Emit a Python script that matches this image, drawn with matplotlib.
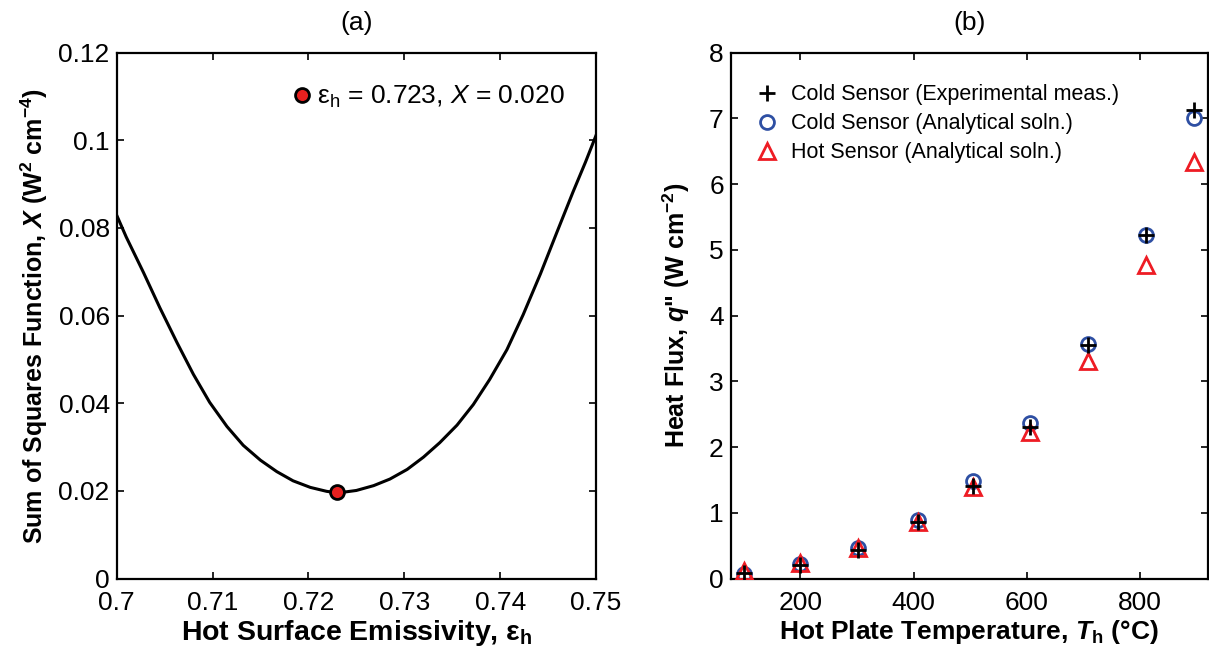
import matplotlib
matplotlib.use('Agg')
import matplotlib.pyplot as plt

plt.rcParams['font.family'] = ['Liberation Sans', 'DejaVu Sans']
plt.rcParams['mathtext.fontset'] = 'custom'
plt.rcParams['mathtext.rm'] = 'Liberation Sans'
plt.rcParams['mathtext.it'] = 'Liberation Sans:italic'
plt.rcParams['mathtext.bf'] = 'Liberation Sans:bold'
plt.rcParams['mathtext.bfit'] = 'Liberation Sans:bold:italic'

# (a) sum of squares vs emissivity
eps = [0.7000, 0.7010, 0.7028, 0.7045, 0.7063, 0.7080, 0.7097, 0.7115,
       0.7132, 0.7150, 0.7167, 0.7184, 0.7202, 0.7219, 0.7229, 0.7233,
       0.7250, 0.7268, 0.7285, 0.7303, 0.7320, 0.7337, 0.7355, 0.7372,
       0.7389, 0.7407, 0.7424, 0.7442, 0.7459, 0.7476, 0.7489, 0.7500]
sos = [0.0829, 0.0779, 0.0698, 0.0618, 0.0538, 0.0466, 0.0402, 0.0347,
       0.0304, 0.0270, 0.0244, 0.0223, 0.0208, 0.0199, 0.0196, 0.0196,
       0.0201, 0.0212, 0.0227, 0.0249, 0.0277, 0.0310, 0.0350, 0.0397,
       0.0454, 0.0522, 0.0602, 0.0695, 0.0789, 0.0882, 0.0950, 0.1011]
eps_min = 0.723
sos_min = 0.0197

# (b) heat flux vs hot plate temperature
temp = [100, 200, 302, 408, 505, 606, 709, 810, 896]
cold_exp = [0.09, 0.21, 0.44, 0.855, 1.41, 2.30, 3.55, 5.22, 7.13]
cold_an = [0.075, 0.215, 0.47, 0.89, 1.48, 2.36, 3.57, 5.22, 7.01]
hot_an = [0.11, 0.24, 0.46, 0.86, 1.40, 2.23, 3.31, 4.77, 6.34]

fig = plt.figure(figsize=(12.09, 6.58), dpi=100)
ax1 = fig.add_axes([0.0965, 0.1207, 0.3965, 0.7995])
ax2 = fig.add_axes([0.6044, 0.1207, 0.3946, 0.7995])

for ax in (ax1, ax2):
    ax.tick_params(direction='in', top=True, right=True, length=5,
                   width=1.2, labelsize=19, pad=5)
    ax.tick_params(axis='x', pad=9)
    for sp in ax.spines.values():
        sp.set_linewidth(1.6)

# panel (a)
ax1.plot(eps, sos, color='black', lw=2.2)
ax1.plot([eps_min], [sos_min], 'o', ms=10, mfc='#e8201f', mec='black', mew=2,
         label=r'ε$_{\mathrm{h}}$ = 0.723, $\mathit{X}$ = 0.020')
ax1.set_xlim(0.7, 0.75)
ax1.set_ylim(0, 0.12)
ax1.set_xticks([0.7, 0.71, 0.72, 0.73, 0.74, 0.75])
ax1.set_xticklabels(['0.7', '0.71', '0.72', '0.73', '0.74', '0.75'])
ax1.set_yticks([0, 0.02, 0.04, 0.06, 0.08, 0.1, 0.12])
ax1.set_yticklabels(['0', '0.02', '0.04', '0.06', '0.08', '0.1', '0.12'])
ax1.legend(loc='upper right', frameon=False, fontsize=19, handlelength=0.6,
           handletextpad=0.28, borderpad=0, borderaxespad=0,
           bbox_to_anchor=(0.935, 0.94))
ax1.set_xlabel(r'Hot Surface Emissivity, ε$_{\mathbf{h}}$', fontsize=20.5,
               fontweight='bold', labelpad=2)
ax1.set_ylabel(r'Sum of Squares Function, $\mathbfit{X}$ (W$^{\mathbf{2}}$ cm$^{\mathbf{-4}}$)',
               fontsize=18, fontweight='bold', labelpad=6)
ax1.set_title('(a)', fontsize=19, pad=16)

# panel (b)
ax2.plot(temp, cold_exp, '+', color='black', ms=11, mew=2,
         label='Cold Sensor (Experimental meas.)', zorder=4)
ax2.plot(temp, cold_an, 'o', mfc='none', mec='#2e4fa3', ms=10, mew=2,
         label='Cold Sensor (Analytical soln.)', zorder=3)
ax2.plot(temp, hot_an, '^', mfc='none', mec='#ee1c24', ms=11, mew=2,
         label='Hot Sensor (Analytical soln.)', zorder=3)
ax2.set_xlim(77, 920)
ax2.set_ylim(0, 8)
ax2.set_xticks([200, 400, 600, 800])
ax2.set_yticks(range(0, 9))
ax2.legend(loc='upper left', frameon=False, fontsize=15.5, handlelength=1.2,
           handletextpad=0.5, labelspacing=0.38, borderpad=0, borderaxespad=0,
           bbox_to_anchor=(0.05, 0.94))
ax2.set_xlabel(r'Hot Plate Temperature, $\mathbfit{T}_{\mathbf{h}}$ (°C)',
               fontsize=19, fontweight='bold', labelpad=2)
ax2.set_ylabel(r'Heat Flux, $\mathbfit{q}$" (W cm$^{\mathbf{-2}}$)',
               fontsize=18, fontweight='bold', labelpad=12)
ax2.set_title('(b)', fontsize=19, pad=16)

fig.savefig('out.png', dpi=100)
